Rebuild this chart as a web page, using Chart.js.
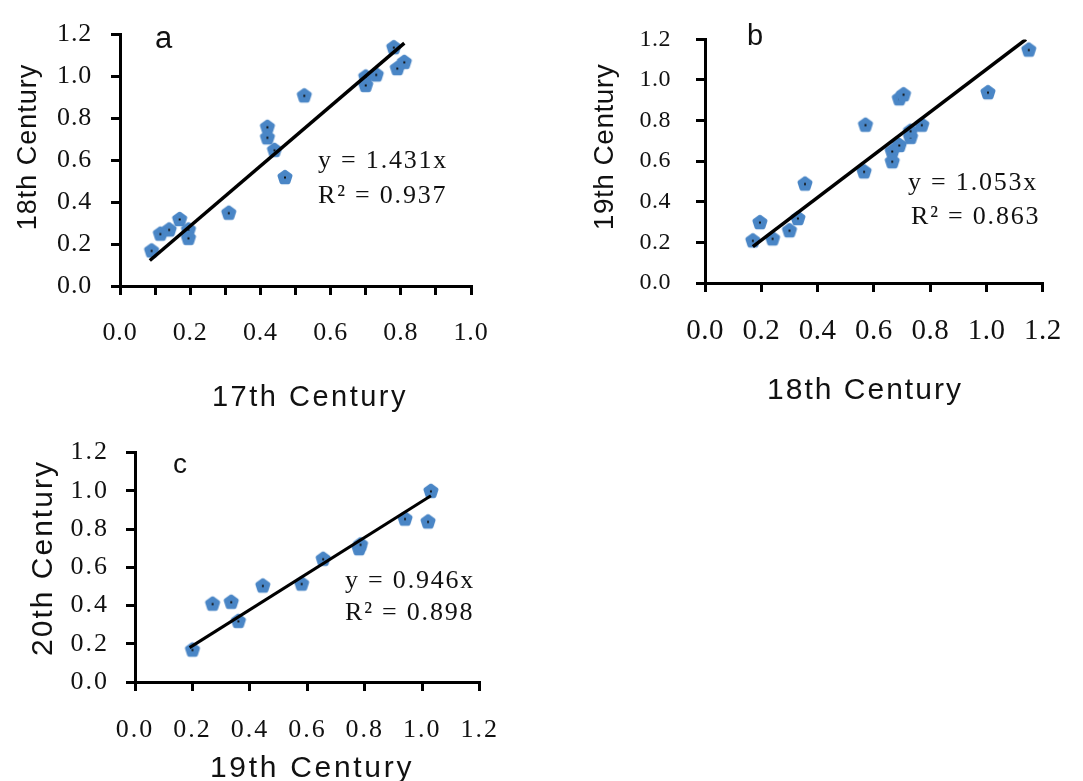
<!DOCTYPE html>
<html>
<head>
<meta charset="utf-8">
<script src="https://cdn.jsdelivr.net/npm/chart.js@4.4.1/dist/chart.umd.min.js"></script>
<style>
  body { margin: 0; background: #fff; width: 1083px; height: 781px; position: relative; overflow: hidden; }
  .panel { position: absolute; }
</style>
</head>
<body>
<div class="panel" style="left:0;top:0;width:520px;height:420px"><canvas id="chartA"></canvas></div>
<div class="panel" style="left:560px;top:0;width:523px;height:420px"><canvas id="chartB"></canvas></div>
<div class="panel" style="left:0;top:420px;width:520px;height:361px"><canvas id="chartC"></canvas></div>
<script>
// a: 17th vs 18th century
const aX = [0.09, 0.115, 0.14, 0.17, 0.195, 0.195, 0.31, 0.42, 0.42, 0.44, 0.47, 0.525, 0.70, 0.70, 0.73, 0.78, 0.79, 0.81];
const aY = [0.17, 0.25, 0.27, 0.32, 0.27, 0.23, 0.35, 0.76, 0.71, 0.65, 0.52, 0.91, 1.00, 0.96, 1.01, 1.14, 1.04, 1.07];
const aSlope = 1.431, aR2 = 0.937;
const aFitX = [0.085, 0.81];

// b: 18th vs 19th century
const bX = [0.17, 0.195, 0.24, 0.30, 0.33, 0.355, 0.565, 0.57, 0.665, 0.665, 0.69, 0.69, 0.705, 0.73, 0.73, 0.77, 1.005, 1.15];
const bY = [0.21, 0.30, 0.22, 0.26, 0.32, 0.49, 0.55, 0.78, 0.65, 0.60, 0.68, 0.91, 0.93, 0.72, 0.75, 0.78, 0.94, 1.15];
const bSlope = 1.053, bR2 = 0.863;
const bFitX = [0.17, 1.14];

// c: 19th vs 20th century
const cX = [0.20, 0.27, 0.335, 0.36, 0.445, 0.58, 0.655, 0.78, 0.785, 0.94, 1.02, 1.03];
const cY = [0.17, 0.41, 0.42, 0.32, 0.505, 0.515, 0.645, 0.70, 0.72, 0.855, 0.84, 1.00];
const cSlope = 0.946, cR2 = 0.898;
const cFitX = [0.19, 1.03];

const yTicks = [0, 0.2, 0.4, 0.6, 0.8, 1.0, 1.2];

const serif = "'Liberation Serif', 'Times New Roman', serif";
const sans = "'Liberation Sans', Arial, sans-serif";

function makeMarker() {
  const c = document.createElement('canvas');
  c.width = 18; c.height = 18;
  const g = c.getContext('2d');
  g.fillStyle = '#4a86c6';
  g.strokeStyle = '#4a86c6';
  g.lineWidth = 4;
  g.lineJoin = 'round';
  g.beginPath();
  for (let i = 0; i < 5; i++) {
    const ang = -Math.PI / 2 + i * 2 * Math.PI / 5;
    const px = 9 + 5.8 * Math.cos(ang), py = 9.5 + 5.8 * Math.sin(ang);
    if (i) g.lineTo(px, py); else g.moveTo(px, py);
  }
  g.closePath();
  g.fill();
  g.stroke();
  g.fillStyle = '#111';
  g.fillRect(8, 8.5, 2, 2);
  return c;
}
const marker = makeMarker();

// letter, equation and axis titles
const annotate = {
  id: 'annotate',
  beforeDraw(chart) {
    chart.ctx.letterSpacing = chart.options.plugins.annotate.tickSpacing + 'px';
  },
  afterDraw(chart) {
    const o = chart.options.plugins.annotate;
    const ctx = chart.ctx;
    ctx.save();
    ctx.fillStyle = '#111';
    ctx.textBaseline = 'alphabetic';
    ctx.textAlign = 'left';
    ctx.letterSpacing = '0px';
    ctx.font = o.letterSize + 'px ' + sans;
    ctx.fillText(o.letter, o.letterPos[0], o.letterPos[1]);
    ctx.font = '26px ' + serif;
    ctx.letterSpacing = '1.8px';
    ctx.fillText(o.eq, o.eqPos[0], o.eqPos[1]);
    ctx.fillText(o.r2, o.r2Pos[0], o.r2Pos[1]);

    ctx.textAlign = 'center';
    ctx.font = o.xTitle.size + 'px ' + sans;
    ctx.letterSpacing = o.xTitle.ls + 'px';
    ctx.fillText(o.xTitle.text, o.xTitle.cx, o.xTitle.base);

    ctx.font = o.yTitle.size + 'px ' + sans;
    ctx.letterSpacing = o.yTitle.ls + 'px';
    ctx.translate(o.yTitle.base, o.yTitle.cy);
    ctx.rotate(-Math.PI / 2);
    ctx.fillText(o.yTitle.text, 0, 0);
    ctx.restore();
    ctx.letterSpacing = '0px';
  }
};

function makePanel(id, p) {
  const pts = p.xs.map((x, i) => ({ x: x, y: p.ys[i] }));
  const fit = p.fitX.map(x => ({ x: x, y: p.slope * x }));
  return new Chart(document.getElementById(id), {
    type: 'scatter',
    data: {
      datasets: [
        {
          data: pts,
          pointStyle: marker,
          pointRadius: 8,
          order: 1
        },
        {
          type: 'line',
          data: fit,
          borderColor: '#000',
          borderWidth: p.lineWidth,
          pointRadius: 0,
          fill: false,
          order: 0
        }
      ]
    },
    options: {
      responsive: true,
      maintainAspectRatio: false,
      animation: false,
      events: [],
      layout: { padding: p.padding },
      plugins: {
        legend: { display: false },
        tooltip: { enabled: false },
        annotate: {
          tickSpacing: p.tickSpacing,
          letter: p.letter, letterPos: p.letterPos, letterSize: p.letterSize,
          eq: 'y = ' + p.slope.toFixed(3) + 'x', eqPos: p.eqPos,
          r2: 'R\u00b2 = ' + p.r2.toFixed(3), r2Pos: p.r2Pos,
          xTitle: p.xTitle, yTitle: p.yTitle
        }
      },
      scales: {
        x: {
          type: 'linear',
          min: 0,
          max: p.xMax,
          afterBuildTicks(s) {
            s.ticks = [];
            for (let v = 0; v <= p.xMax * 10 + 0.01; v += p.xStep) s.ticks.push({ value: v / 10 });
          },
          afterFit(s) { s.height = p.xHeight; },
          grid: { drawOnChartArea: false, drawTicks: true, tickLength: 9, color: '#000', lineWidth: 3 },
          border: { display: true, color: '#000', width: 3 },
          ticks: {
            color: '#111',
            font: { family: serif, size: p.xTickSize },
            padding: p.xPad,
            maxRotation: 0,
            autoSkip: false,
            callback: v => (Math.round(v * 10) % 2 === 0 ? v.toFixed(1) : '')
          },
          title: { display: false }
        },
        y: {
          type: 'linear',
          min: 0,
          max: 1.2,
          afterBuildTicks(s) { s.ticks = yTicks.map(v => ({ value: v })); },
          afterFit(s) { s.width = p.yWidth; },
          grid: { drawOnChartArea: false, drawTicks: true, tickLength: 9, color: '#000', lineWidth: 3 },
          border: { display: true, color: '#000', width: 3 },
          ticks: {
            color: '#111',
            font: { family: serif, size: p.yTickSize },
            padding: p.yPad,
            callback: v => v.toFixed(1)
          },
          title: { display: false }
        }
      }
    },
    plugins: [annotate]
  });
}

makePanel('chartA', {
  xs: aX, ys: aY, slope: aSlope, r2: aR2, fitX: aFitX,
  xMax: 1.0, xStep: 1,
  xTitle: { text: '17th Century', size: 29, ls: 2.5, cx: 310, base: 406 },
  yTitle: { text: '18th Century', size: 27, ls: 1, cy: 147, base: 36 },
  padding: { left: 0, top: 22, right: 49, bottom: 0 },
  yWidth: 120, xHeight: 134, xPad: 23, yPad: 19,
  xTickSize: 26, yTickSize: 26, tickSpacing: 0.8,
  lineWidth: 3.5,
  letter: 'a', letterSize: 31, letterPos: [155, 48], eqPos: [318, 168], r2Pos: [318, 203]
});

makePanel('chartB', {
  xs: bX, ys: bY, slope: bSlope, r2: bR2, fitX: bFitX,
  xMax: 1.2, xStep: 2,
  xTitle: { text: '18th Century', size: 30, ls: 2, cx: 305, base: 399 },
  yTitle: { text: '19th Century', size: 28, ls: 0.5, cy: 147, base: 53 },
  padding: { left: 0, top: 31, right: 36, bottom: 0 },
  yWidth: 145, xHeight: 137, xPad: 22, yPad: 25,
  xTickSize: 29, yTickSize: 24, tickSpacing: 0.5,
  lineWidth: 3.5,
  letter: 'b', letterSize: 29, letterPos: [187, 45], eqPos: [348, 190], r2Pos: [351, 224]
});

makePanel('chartC', {
  xs: cX, ys: cY, slope: cSlope, r2: cR2, fitX: cFitX,
  xMax: 1.2, xStep: 2,
  xTitle: { text: '19th Century', size: 30, ls: 2.7, cx: 312, base: 357 },
  yTitle: { text: '20th Century', size: 30, ls: 2, cy: 138, base: 52 },
  padding: { left: 0, top: 22, right: 25, bottom: 0 },
  yWidth: 135, xHeight: 99, xPad: 24, yPad: 17,
  xTickSize: 26, yTickSize: 26, tickSpacing: 2,
  lineWidth: 3,
  letter: 'c', letterSize: 28, letterPos: [173, 53], eqPos: [345, 168], r2Pos: [345, 200]
});
</script>
</body>
</html>
